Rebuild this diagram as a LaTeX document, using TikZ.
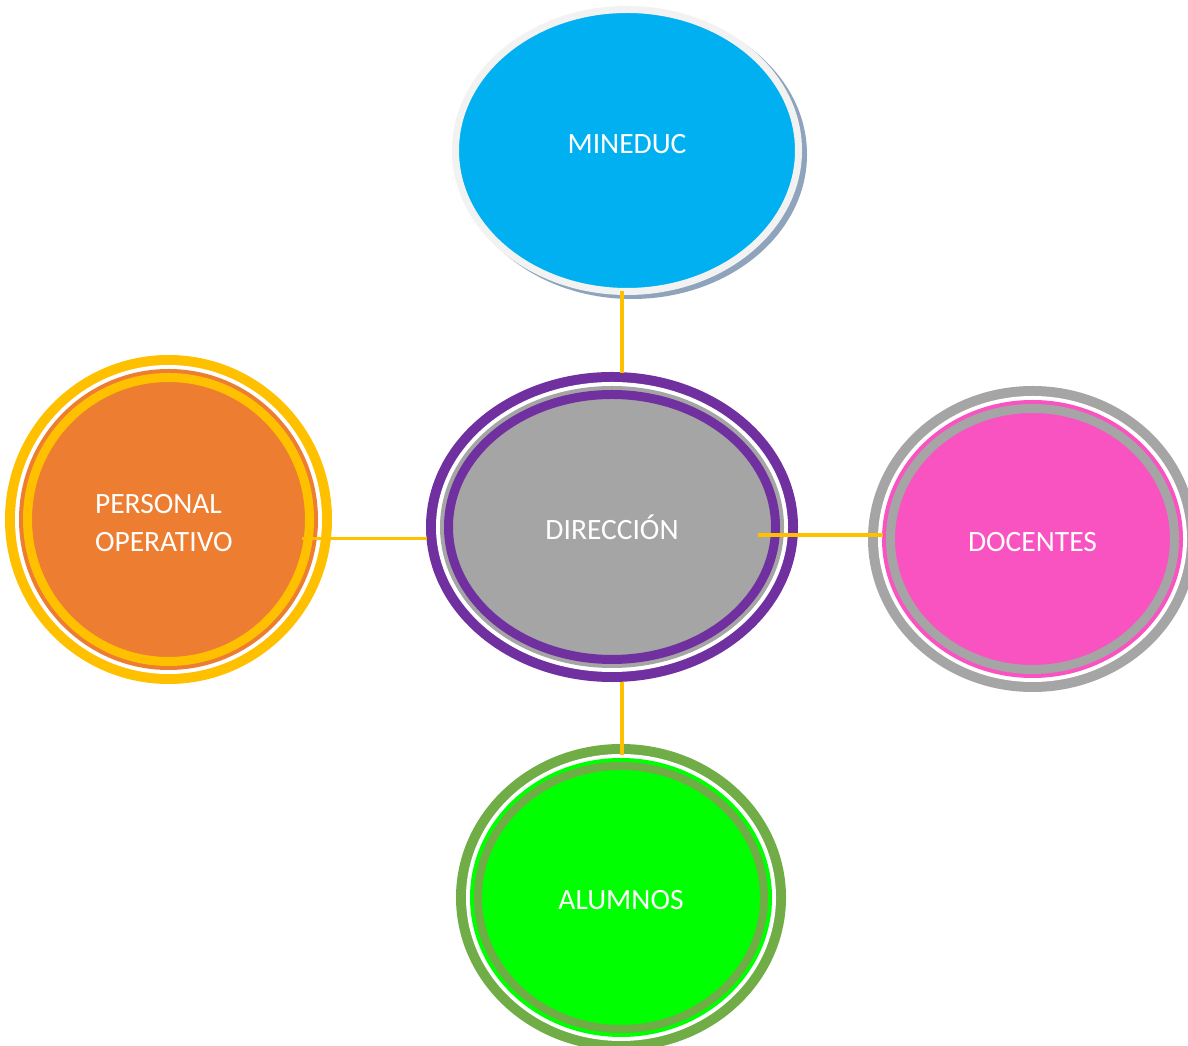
\documentclass[tikz,border=0pt]{standalone}
\usepackage{fontspec}
\newfontfamily\bubblefont{Carlito}
\usetikzlibrary{shapes.geometric}

\definecolor{minblue}{HTML}{00B0F0}
\definecolor{minring}{HTML}{F2F2F2}
\definecolor{minshadow}{HTML}{8EA4BC}
\definecolor{dirpurple}{HTML}{7030A0}
\definecolor{dirgrey}{HTML}{A5A5A5}
\definecolor{perorange}{HTML}{ED7D31}
\definecolor{peryellow}{HTML}{FFC000}
\definecolor{docpink}{HTML}{F953C1}
\definecolor{alugreen}{HTML}{00FF00}
\definecolor{aluolive}{HTML}{70AD47}

\begin{document}
\begin{tikzpicture}[x=1pt, y=1pt,
  label font/.style={text=white, font={\bubblefont\fontsize{29.5}{38}\selectfont}},
  bubble/.style n args={3}{ellipse, inner sep=0pt, outer sep=0pt,
    preaction={draw=#1, line width=#3+36pt},
    preaction={draw=white, line width=#3+16pt},
    preaction={draw=#2, line width=#3+8pt},
    fill=#2, draw=#1, line width=#3, label font},
  link/.style={draw=peryellow, line width=3.5pt}]

\useasboundingbox (0,0) rectangle (1188,1046);
\fill[white] (0,0) rectangle (1188,1046);

\node (min) at (627, 895.5) [ellipse, inner sep=0pt, outer sep=0pt, minimum width=343pt, minimum height=282pt,
  fill=minblue, draw=minring, line width=7pt, label font, text depth=14pt,
  preaction={fill=minshadow, draw=minshadow, line width=7pt, transform canvas={shift={(5pt,-4pt)}}}] {MINEDUC};

\node (dir) at (612, 519)      [bubble={dirpurple}{dirgrey}{9pt}, minimum width=327pt, minimum height=265pt] {DIRECCIÓN};
\node (per) at (168.5, 526.5)  [bubble={peryellow}{perorange}{9pt}, minimum width=282pt, minimum height=284pt,
  text width=147pt, align=left] {\rule{0pt}{27pt}PERSONAL\\OPERATIVO};
\node (doc) at (1032.5, 507)   [bubble={dirgrey}{docpink}{9pt}, minimum width=284pt, minimum height=261pt, text height=25pt] {DOCENTES};
\node (alu) at (621, 148.5)    [bubble={aluolive}{alugreen}{8pt}, minimum width=286pt, minimum height=263pt, text height=24pt] {ALUMNOS};

\draw[link, shorten >=21.5pt] ([xshift=-5pt]min.south) -- ([xshift=-5pt]min.south |- dir.north);
\draw[link, shorten <=22.5pt, shorten >=11pt] ([xshift=10pt]dir.south) -- ([xshift=10pt]dir.south |- alu.north);
\draw[link, shorten <=-8pt, shorten >=21.5pt] ([yshift=-19pt]per.east) -- ([yshift=-19pt]per.east -| dir.west);
\draw[link, shorten <=-17.5pt, shorten >=7.5pt] ([yshift=-8pt]dir.east) -- ([yshift=-8pt]dir.east -| doc.west);

\end{tikzpicture}
\end{document}
